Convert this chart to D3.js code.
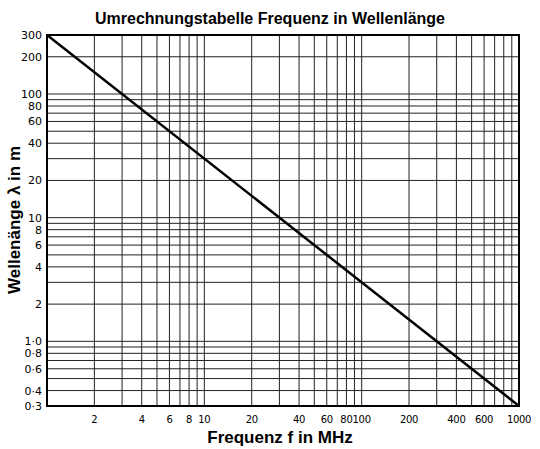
<!DOCTYPE html>
<html><head><meta charset="utf-8">
<script src="https://cdn.jsdelivr.net/npm/d3@7"></script>
<style>body{margin:0;background:#fff}</style>
</head><body>
<svg id="c" width="540" height="449"></svg>
<script>
const xGrid = [1,2,3,4,5,6,7,8,9,10,20,30,40,50,60,70,80,90,100,200,300,400,500,600,700,800,900,1000];
const xLabels = [2,4,6,8,10,20,40,60,80,100,200,400,600,1000];
const yGrid = [0.3,0.4,0.5,0.6,0.7,0.8,0.9,1,2,3,4,5,6,7,8,9,10,20,30,40,50,60,70,80,90,100,200,300];
const yLabels = [0.3,0.4,0.6,0.8,1,2,4,6,8,10,20,40,60,80,100,200,300];
const lineFreq = [1,1000];
const lineWave = [300,0.3];

const svg = d3.select('#c');
const m = {l: 47, r: 519, t: 35, b: 406};
const x = d3.scaleLog().domain([1,1000]).range([m.l,m.r]);
const y = d3.scaleLog().domain([0.3,300]).range([m.b,m.t]);
const fmtY = v => v < 1 ? String(v).replace('.', '·') : v === 1 ? '1·0' : String(v);

svg.append('text').attr('x', 270).attr('y', 24).attr('text-anchor','middle')
  .attr('font-family','Liberation Sans, Arial').attr('font-weight','bold').attr('font-size',16)
  .text('Umrechnungstabelle Frequenz in Wellenlänge');

const g = svg.append('g').attr('stroke','#222').attr('stroke-width',1);
g.selectAll('.vx').data(xGrid).join('line')
  .attr('x1', d => x(d)).attr('x2', d => x(d)).attr('y1', m.t).attr('y2', m.b);
g.selectAll('.hy').data(yGrid).join('line')
  .attr('y1', d => y(d)).attr('y2', d => y(d)).attr('x1', m.l).attr('x2', m.r);
svg.append('rect').attr('x', m.l).attr('y', m.t).attr('width', m.r-m.l).attr('height', m.b-m.t)
  .attr('fill','none').attr('stroke','#000').attr('stroke-width',2);

svg.append('path').datum(d3.zip(lineFreq, lineWave))
  .attr('d', d3.line().x(d => x(d[0])).y(d => y(d[1])))
  .attr('stroke','#000').attr('stroke-width',2.5).attr('fill','none');

const font = 'DejaVu Sans, Arial';
svg.selectAll('.xl').data(xLabels).join('text')
  .attr('x', d => x(d)).attr('y', 423).attr('text-anchor','middle')
  .attr('font-family', font).attr('font-size', 10).attr('letter-spacing', -0.3).text(d => d);
svg.selectAll('.yl').data(yLabels).join('text')
  .attr('x', 42).attr('y', d => y(d)+4).attr('text-anchor','end')
  .attr('font-family', font).attr('font-size', 11).text(fmtY);

svg.append('text').attr('x', 280).attr('y', 443).attr('text-anchor','middle')
  .attr('font-family','Liberation Sans, Arial').attr('font-weight','bold').attr('font-size',17)
  .text('Frequenz  f  in MHz');
svg.append('text').attr('transform','translate(20,220) rotate(-90)').attr('text-anchor','middle')
  .attr('font-family','Liberation Sans, Arial').attr('font-weight','bold').attr('font-size',17)
  .text('Wellenänge  λ  in m');
</script>
</body></html>
